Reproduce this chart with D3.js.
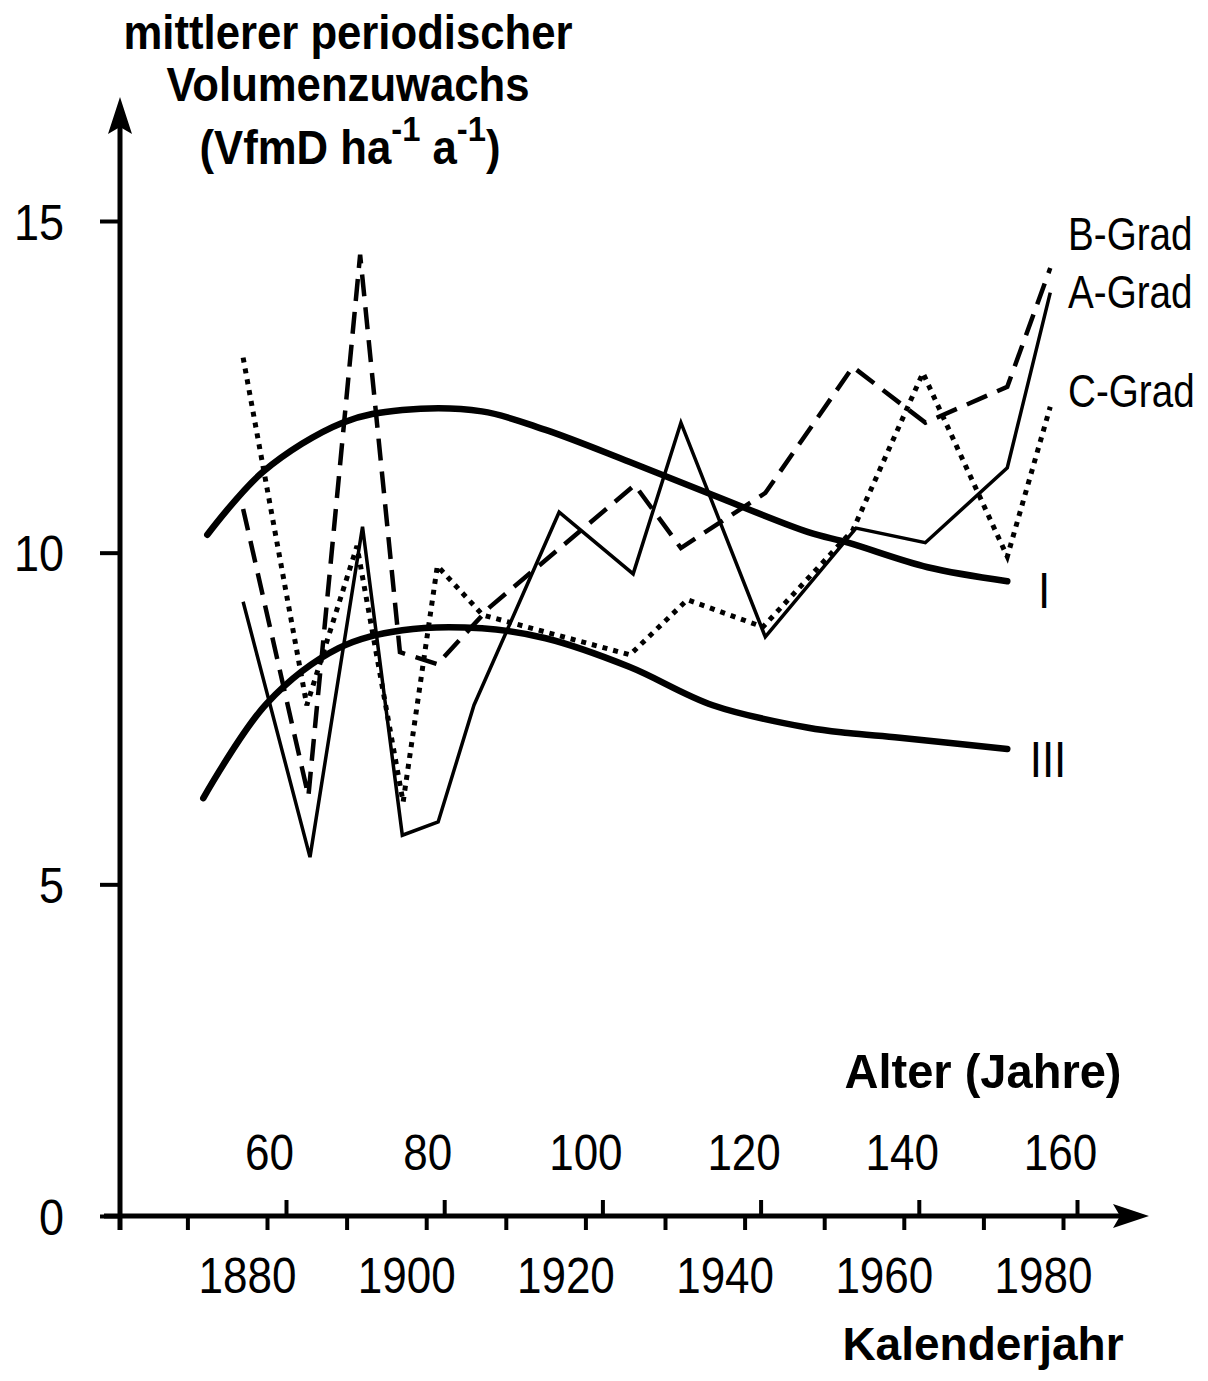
<!DOCTYPE html>
<html>
<head>
<meta charset="utf-8">
<script src="https://cdn.jsdelivr.net/npm/d3@7"></script>
<style>
  body { margin: 0; background: #fff; }
  svg { display: block; font-family: "Liberation Sans", Arial, sans-serif; }
</style>
</head>
<body>
<svg id="chart"></svg>
<script>
// site curves I and III (yield table)
let curveIYears = [1872.5, 1879.5, 1889.5, 1897, 1907, 1915, 1925.5, 1936, 1948, 1953, 1963, 1973];
let curveIVals  = [10.27, 11.22, 11.96, 12.15, 12.13, 11.85, 11.37, 10.87, 10.31, 10.15, 9.78, 9.57];
let curveIIIYears = [1872, 1880, 1889, 1897, 1907, 1915, 1925.5, 1936, 1948, 1953, 1959.5, 1973];
let curveIIIVals  = [6.30, 7.73, 8.56, 8.83, 8.86, 8.71, 8.28, 7.70, 7.36, 7.28, 7.21, 7.04];

// thinning grades
let aYears = [1877, 1885.4, 1892, 1897, 1901.5, 1906, 1916.7, 1926, 1932, 1942.6, 1954, 1962.7, 1973, 1978.4];
let aVals  = [9.26, 5.41, 10.39, 5.74, 5.94, 7.70, 10.61, 9.68, 11.96, 8.73, 10.37, 10.15, 11.28, 13.92];
let bYears = [1877, 1885.2, 1891.7, 1896.7, 1901.4, 1908, 1926.2, 1932, 1942.6, 1953.6, 1962.7, 1973, 1978.4];
let bVals  = [10.66, 6.33, 14.49, 8.50, 8.32, 9.18, 11.02, 10.07, 10.90, 12.80, 11.96, 12.50, 14.29];
let cYears = [1877, 1885, 1891.3, 1897.1, 1901.4, 1907.1, 1925.6, 1932.8, 1942.3, 1953.6, 1962.4, 1973, 1978.4];
let cVals  = [12.94, 7.70, 10.10, 6.24, 9.80, 9.06, 8.46, 9.29, 8.88, 10.34, 12.71, 9.94, 12.20];

// axes
let yearTicks  = [1870, 1880, 1890, 1900, 1910, 1920, 1930, 1940, 1950, 1960, 1970, 1980];
let yearLabels = [1880, 1900, 1920, 1940, 1960, 1980];
let ageTicks   = [60, 80, 100, 120, 140, 160];
let yTicks     = [0, 5, 10, 15];

let svg = d3.select("#chart").attr("width", 1208).attr("height", 1381);
svg.append("rect").attr("width", 1208).attr("height", 1381).attr("fill", "#fff");

let x = d3.scaleLinear().domain([1870, 1980]).range([187.4, 1063]);
let ageScale = d3.scaleLinear().domain([60, 160]).range([286, 1077]);
let y = d3.scaleLinear().domain([0, 15]).range([1216, 221]);
let x0 = 120, y0 = y(0);

function label(px, py, txt, size, weight, k, anchor) {
  return svg.append("text")
    .attr("transform", "translate(" + px + "," + py + ") scale(" + k + ",1)")
    .attr("text-anchor", anchor || "start")
    .style("font-size", size + "px")
    .style("font-weight", weight || "normal")
    .attr("fill", "#000")
    .text(txt);
}

function styleAxis(g) {
  g.attr("font-family", null).attr("font-size", null);
  g.select(".domain").remove();
  g.selectAll(".tick line").attr("stroke", "#000").attr("stroke-width", 4);
  g.selectAll(".tick text").attr("fill", "#000").style("font-size", "50px");
}

// y axis
let gy = svg.append("g").attr("transform", "translate(" + x0 + ",0)")
  .call(d3.axisLeft(y).tickValues(yTicks).tickSize(20));
styleAxis(gy);
gy.selectAll(".tick text").attr("x", 0).attr("dy", "0.36em")
  .attr("transform", "translate(-56,0) scale(0.9,1)");

// calendar axis (ticks below)
let gx = svg.append("g").attr("transform", "translate(0," + y0 + ")")
  .call(d3.axisBottom(x).tickValues(yearTicks).tickSize(14)
    .tickFormat(d => yearLabels.includes(d) ? d : ""));
styleAxis(gx);
gx.selectAll(".tick text").attr("y", 77).attr("dy", 0)
  .attr("transform", "translate(-20,0) scale(0.88,1)");

// age axis (ticks above)
let ga = svg.append("g").attr("transform", "translate(0," + y0 + ")")
  .call(d3.axisTop(ageScale).tickValues(ageTicks).tickSize(16));
styleAxis(ga);
ga.selectAll(".tick text").attr("y", -46).attr("dy", 0)
  .attr("transform", "translate(-17,0) scale(0.88,1)");

// axis lines with arrows
svg.append("line").attr("x1", x0).attr("y1", y0 + 14).attr("x2", x0).attr("y2", 112)
  .attr("stroke", "#000").attr("stroke-width", 5);
svg.append("path").attr("d", "M" + x0 + ",97 L" + (x0 - 12) + ",134 L" + x0 + ",127 L" + (x0 + 12) + ",134 Z")
  .attr("fill", "#000");
svg.append("line").attr("x1", 104).attr("y1", y0).attr("x2", 1132).attr("y2", y0)
  .attr("stroke", "#000").attr("stroke-width", 5);
svg.append("path").attr("d", "M1149," + y0 + " L1113," + (y0 - 12) + " L1120," + y0 + " L1113," + (y0 + 12) + " Z")
  .attr("fill", "#000");

// series
let smooth = d3.line().x(d => x(d[0])).y(d => y(d[1])).curve(d3.curveCatmullRom.alpha(0.5));
let straight = d3.line().x(d => x(d[0])).y(d => y(d[1]));

svg.append("path").datum(d3.zip(curveIYears, curveIVals)).attr("d", smooth)
  .attr("fill", "none").attr("stroke", "#000").attr("stroke-width", 6.5).attr("stroke-linecap", "round");
svg.append("path").datum(d3.zip(curveIIIYears, curveIIIVals)).attr("d", smooth)
  .attr("fill", "none").attr("stroke", "#000").attr("stroke-width", 6.5).attr("stroke-linecap", "round");

svg.append("path").datum(d3.zip(cYears, cVals)).attr("d", straight)
  .attr("fill", "none").attr("stroke", "#000").attr("stroke-width", 5).attr("stroke-dasharray", "5,6");
svg.append("path").datum(d3.zip(bYears, bVals)).attr("d", straight)
  .attr("fill", "none").attr("stroke", "#000").attr("stroke-width", 4.5).attr("stroke-dasharray", "22,11");
svg.append("path").datum(d3.zip(aYears, aVals)).attr("d", straight)
  .attr("fill", "none").attr("stroke", "#000").attr("stroke-width", 3.5).attr("stroke-linejoin", "miter");

// series labels
label(1068, 250, "B-Grad", 46, "normal", 0.84);
label(1068, 308, "A-Grad", 46, "normal", 0.84);
label(1068, 407, "C-Grad", 46, "normal", 0.84);
label(1044, 608, "I", 50, "normal", 0.88, "middle");
label(1048, 777, "III", 50, "normal", 0.88, "middle");

// axis titles
label(348, 49, "mittlerer periodischer", 48, "bold", 0.91, "middle");
label(348, 101, "Volumenzuwachs", 48, "bold", 0.91, "middle");
let t3 = label(350, 164, "", 48, "bold", 0.91, "middle");
t3.append("tspan").text("(VfmD ha");
t3.append("tspan").attr("dy", -23).style("font-size", "36px").text("-1");
t3.append("tspan").attr("dy", 23).text(" a");
t3.append("tspan").attr("dy", -23).style("font-size", "36px").text("-1");
t3.append("tspan").attr("dy", 23).text(")");

label(983, 1088, "Alter (Jahre)", 49, "bold", 0.96, "middle");
label(983, 1360, "Kalenderjahr", 46, "bold", 1, "middle");
</script>
</body>
</html>
